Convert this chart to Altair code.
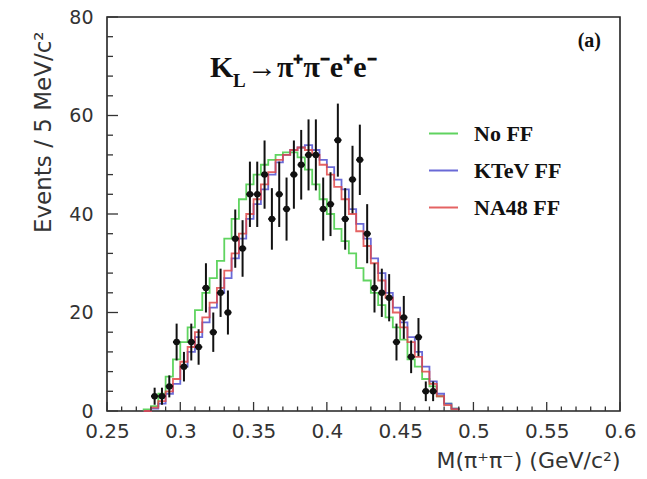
import altair as alt
import pandas as pd

# ---------------- data ----------------
# data points (bin centres, GeV/c^2) and event counts
data_m = [0.2825, 0.2875, 0.2925, 0.2975, 0.3025, 0.3075, 0.3125, 0.3175, 0.3225, 0.3275,
          0.3325, 0.3375, 0.3425, 0.3475, 0.3525, 0.3575, 0.3625, 0.3675, 0.3725, 0.3775,
          0.3825, 0.3875, 0.3925, 0.3975, 0.4025, 0.4075, 0.4125, 0.4175, 0.4225, 0.4275,
          0.4325, 0.4375, 0.4425, 0.4475, 0.4525, 0.4575, 0.4625, 0.4675, 0.4725]
data_n = [3, 3, 5, 14, 9, 14, 13, 25, 16, 24,
          20, 35, 33, 44, 44, 48, 39, 44, 41, 48,
          50, 52, 52, 41, 42, 55, 39, 47, 51, 36,
          25, 24, 23, 14, 19, 11, 15, 4, 4]

# MC histograms: lower bin edges and contents
bin_lo = [0.275, 0.280, 0.285, 0.290, 0.295, 0.300, 0.305, 0.310, 0.315, 0.320,
          0.325, 0.330, 0.335, 0.340, 0.345, 0.350, 0.355, 0.360, 0.365, 0.370,
          0.375, 0.380, 0.385, 0.390, 0.395, 0.400, 0.405, 0.410, 0.415, 0.420,
          0.425, 0.430, 0.435, 0.440, 0.445, 0.450, 0.455, 0.460, 0.465, 0.470,
          0.475, 0.480, 0.485]
bin_hi_last = 0.490
no_ff = [0.3, 1, 3.5, 7, 10.5, 14, 17, 20.5, 24, 27,
         30.5, 35, 39, 43, 46, 48, 50, 51, 52, 52.5,
         52.5, 51.5, 49, 46, 43, 40, 37, 34.5, 32, 29,
         26.5, 24, 21.5, 19, 17, 14.5, 10.5, 9, 6.5, 5,
         3, 1.5, 0.5]
ktev_ff = [0, 0.5, 1.5, 3.5, 5.5, 9, 12, 15, 18, 21,
           24, 27, 31, 35, 39, 42, 45, 48, 50.5, 52,
           53, 53.5, 54, 53, 51, 49.5, 47, 45, 41, 38,
           35, 31, 28, 24, 21, 18, 15, 12, 9, 6,
           3.5, 1.5, 0.5]
na48_ff = [0, 0.7, 2, 4, 6.5, 10, 13, 16, 19, 22,
           25, 28.5, 32, 36, 40, 43, 46, 48.5, 51, 52,
           53, 53.5, 53, 52, 50, 48, 45.5, 43, 40, 36.5,
           33.5, 30, 26.5, 23, 20, 17, 14, 11, 8, 5.5,
           3, 1.2, 0.4]

series_names = ["No FF", "KTeV FF", "NA48 FF"]
series_colors = ["#44cc44", "#5050d0", "#e04848"]

x_ticks_major = [0.25, 0.30, 0.35, 0.40, 0.45, 0.50, 0.55, 0.60]
x_ticks_minor = [0.26, 0.27, 0.28, 0.29, 0.31, 0.32, 0.33, 0.34, 0.36, 0.37, 0.38, 0.39,
                 0.41, 0.42, 0.43, 0.44, 0.46, 0.47, 0.48, 0.49, 0.51, 0.52, 0.53, 0.54,
                 0.56, 0.57, 0.58, 0.59]
y_ticks_major = [0, 20, 40, 60, 80]
y_ticks_minor = [4, 8, 12, 16, 24, 28, 32, 36, 44, 48, 52, 56, 64, 68, 72, 76]

# ---------------- tables ----------------
rows = []
for name, vals in zip(series_names, [no_ff, ktev_ff, na48_ff]):
    k = 0
    rows.append({"series": name, "m": bin_lo[0], "v": 0, "k": k}); k += 1
    for lo, v in zip(bin_lo, vals):
        rows.append({"series": name, "m": lo, "v": v, "k": k}); k += 1
    rows.append({"series": name, "m": bin_hi_last, "v": 0, "k": k})
hist_df = pd.DataFrame(rows)
pts_df = pd.DataFrame({"m": data_m, "n": data_n})

W, H = 513, 394
xs = alt.Scale(domain=[0.25, 0.6], nice=False, zero=False)
ys = alt.Scale(domain=[0, 80], nice=False, zero=False)
FONT = "DejaVu Sans"
TXT = "#333333"

x_axis = alt.Axis(values=x_ticks_major, format=".2~f", ticks=False, domain=False, grid=False,
                  labelFont=FONT, labelFontSize=20, labelColor=TXT, labelPadding=10,
                  labelFlush=False, labelOverlap=False,
                  title="M(π⁺π⁻)  (GeV/c²)", titleFont=FONT, titleFontSize=22,
                  titleFontWeight="normal", titleColor=TXT, titleAnchor="end", titlePadding=9)
y_axis = alt.Axis(values=y_ticks_major, ticks=False, domain=False, grid=False,
                  labelFont=FONT, labelFontSize=19, labelColor=TXT, labelPadding=14,
                  labelFlush=False, labelOverlap=False,
                  title="Events / 5 MeV/c²", titleFont=FONT, titleFontSize=23,
                  titleFontWeight="normal", titleColor=TXT, titleAnchor="end", titleY=14,
                  titlePadding=13)

hist = alt.Chart(hist_df).mark_line(interpolate="step-after", strokeWidth=1.8, opacity=0.85).encode(
    x=alt.X("m:Q", scale=xs, axis=x_axis),
    y=alt.Y("v:Q", scale=ys, axis=y_axis),
    color=alt.Color("series:N", scale=alt.Scale(domain=series_names, range=series_colors),
                    legend=alt.Legend(title=None, orient="none", legendX=321, legendY=101,
                                      symbolType="stroke", symbolSize=841, symbolStrokeWidth=2,
                                      labelFont="Liberation Serif", labelFontWeight="bold",
                                      labelFontSize=22, labelColor="#111", labelOffset=15,
                                      rowPadding=10)),
    detail="series:N",
    order="k:Q",
)

base_pts = alt.Chart(pts_df).transform_calculate(
    lo="datum.n - sqrt(datum.n)", hi="datum.n + sqrt(datum.n)",
    xl="datum.m - 0.0025", xh="datum.m + 0.0025")

yerr = base_pts.mark_rule(color="#111", strokeWidth=2).encode(
    x=alt.X("m:Q", scale=xs, axis=x_axis),
    y=alt.Y("lo:Q", scale=ys, axis=y_axis),
    y2="hi:Q")
xerr = base_pts.mark_rule(color="#111", strokeWidth=2).encode(
    x=alt.X("xl:Q", scale=xs, axis=x_axis),
    x2="xh:Q",
    y=alt.Y("n:Q", scale=ys, axis=y_axis))
dots = base_pts.mark_circle(color="#111", size=42, opacity=1).encode(
    x=alt.X("m:Q", scale=xs, axis=x_axis),
    y=alt.Y("n:Q", scale=ys, axis=y_axis))

# inward ticks
xmaj = alt.Chart(pd.DataFrame({"t": x_ticks_major})).mark_rule(color="#333", strokeWidth=1.3).encode(
    x=alt.X("t:Q", scale=xs, axis=x_axis), y=alt.value(H), y2=alt.value(H - 9))
xmin = alt.Chart(pd.DataFrame({"t": x_ticks_minor})).mark_rule(color="#333", strokeWidth=1.3).encode(
    x=alt.X("t:Q", scale=xs, axis=x_axis), y=alt.value(H), y2=alt.value(H - 4.5))
ymaj = alt.Chart(pd.DataFrame({"t": y_ticks_major})).mark_rule(color="#333", strokeWidth=1.3).encode(
    y=alt.Y("t:Q", scale=ys, axis=y_axis), x=alt.value(0), x2=alt.value(11))
ymin = alt.Chart(pd.DataFrame({"t": y_ticks_minor})).mark_rule(color="#333", strokeWidth=1.3).encode(
    y=alt.Y("t:Q", scale=ys, axis=y_axis), x=alt.value(0), x2=alt.value(6))

# annotations
serif = "Liberation Serif"
ann_df = pd.DataFrame({"a": [0]})
t_k = alt.Chart(ann_df).mark_text(text="K", font=serif, fontWeight="bold", fontSize=30,
                                  align="left", baseline="alphabetic", color="#111").encode(
    x=alt.value(103), y=alt.value(60))
t_l = alt.Chart(ann_df).mark_text(text="L", font=serif, fontWeight="bold", fontSize=19,
                                  align="left", baseline="alphabetic", color="#111").encode(
    x=alt.value(126), y=alt.value(70))
t_rest = alt.Chart(ann_df).mark_text(text="→π⁺π⁻e⁺e⁻", font=serif, fontWeight="bold", fontSize=30,
                                     align="left", baseline="alphabetic", color="#111").encode(
    x=alt.value(140), y=alt.value(60))
t_a = alt.Chart(ann_df).mark_text(text="(a)", font=serif, fontWeight="bold", fontSize=20,
                                  align="right", baseline="alphabetic", color="#111").encode(
    x=alt.value(494), y=alt.value(30))

chart = alt.layer(hist, yerr, xerr, dots, xmaj, xmin, ymaj, ymin, t_k, t_l, t_rest, t_a).properties(
    width=W, height=H,
    autosize=alt.AutoSizeParams(type="none"),
    padding={"left": 99, "top": 9, "right": 18, "bottom": 65},
    background="white",
).configure_view(stroke="#222", strokeWidth=1.6)

chart.save("out.html", embed_options={"renderer": "svg", "actions": False})
